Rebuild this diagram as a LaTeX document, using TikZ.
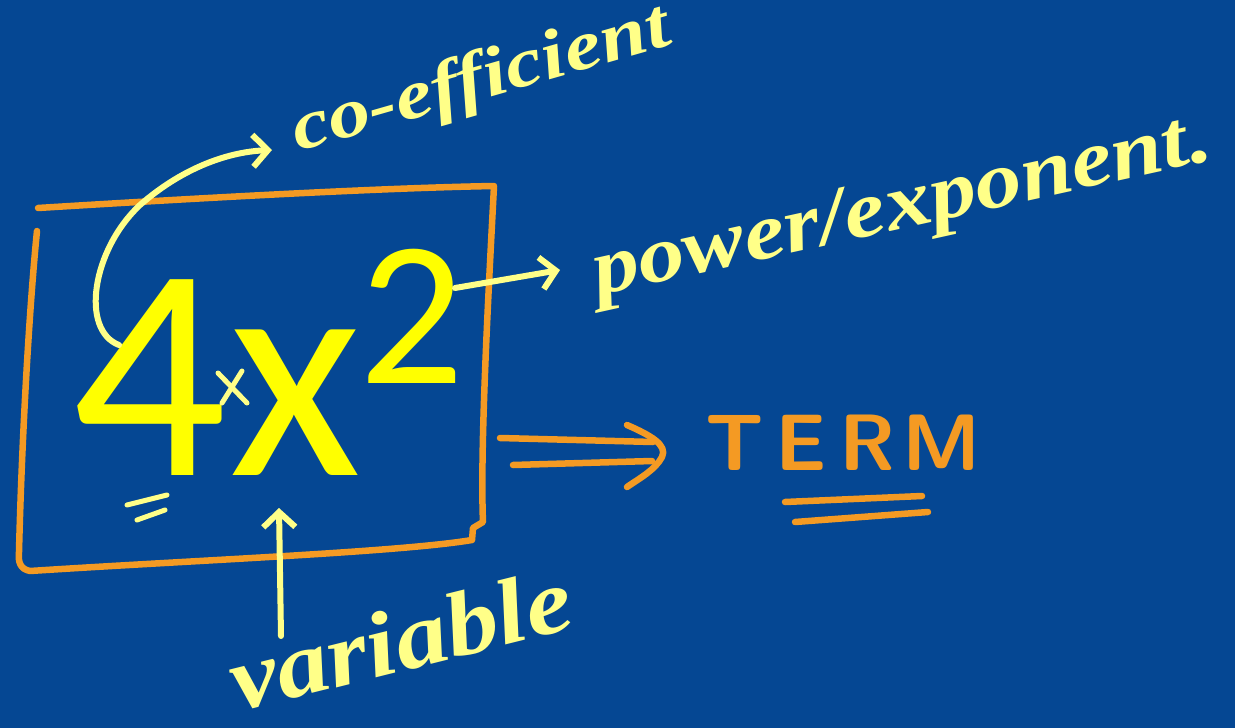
\documentclass[tikz,border=0pt]{standalone}
\usepackage{fontspec}
\setmainfont{Carlito}
\newfontfamily\hand{Liberation Serif}
\usetikzlibrary{arrows.meta}
\definecolor{bg}{RGB}{5,71,147}
\definecolor{pen}{RGB}{255,255,136}
\definecolor{org}{RGB}{244,154,35}
\definecolor{big}{RGB}{255,255,0}
\tikzset{
  ink/.style={draw=pen, line width=6pt, line cap=round, line join=round},
  oink/.style={draw=org, line width=6.5pt, line cap=round, line join=round},
  barb/.style={-{Straight Barb[length=15pt,width=32pt,line width=6pt]}},
  htext/.style={text=pen, inner sep=0pt, anchor=base west},
  glyph/.style={text=big, inner sep=0pt, anchor=base},
}
\newcommand{\handfont}[1]{\hand\itshape\bfseries\fontsize{#1}{#1}\selectfont}
\begin{document}
\begin{tikzpicture}[x=1pt,y=-1pt]
\fill[bg] (0,0) rectangle (1235,728);
\useasboundingbox (0,0) rectangle (1235,728);
% big term
\node[glyph, font=\fontsize{305}{305}\selectfont] (four) at (150,475) {4};
\node[glyph, font=\fontsize{305}{305}\selectfont] (ex) at (296,475) {x};
\node[glyph, font=\fontsize{207}{207}\selectfont] (two) at (412,383) {2};
% box
\draw[oink] (38,208) .. controls (200,198) and (380,188) .. (494,186)
  .. controls (488,300) and (480,450) .. (483,522) -- (473,528) -- (472,540)
  .. controls (400,552) and (200,560) .. (30,571)
  .. controls (20,569) and (18,562) .. (19,552)
  .. controls (22,430) and (30,300) .. (37,231);
% coefficient
\coordinate (c1) at (119,345);
\coordinate (c2) at (272,150);
\draw[ink, barb] (c1) .. controls (80,330) and (92,250) .. (140,205) .. controls (180,170) and (225,152) .. (c2);
\node[htext, font=\handfont{70}, rotate=16, xscale=1.2] (coef) at (298,152) {co-efficient};
% power
\coordinate (p1) at (455,288);
\coordinate (p2) at (560,270);
\draw[ink, barb] (p1) -- (p2);
\node[htext, font=\handfont{80}, rotate=12.5, xscale=1.16] (pow) at (598,296) {power/exponent.};
% variable
\coordinate (v1) at (281,636);
\coordinate (v2) at (279,508);
\draw[ink, barb] (v1) -- (v2);
\node[htext, font=\handfont{92}, rotate=14, xscale=1.14] (var) at (238,712) {variable};
% equals under 4 and multiplication mark
\draw[ink, line width=5pt] (127,505) -- (167,495);
\draw[ink, line width=5pt] (137,520) -- (165,510);
\draw[ink, line width=5pt] (218,373) -- (247,403);
\draw[ink, line width=5pt] (242,371) -- (222,403);
% double arrow to TERM
\coordinate (d1) at (500,438);
\coordinate (d2) at (653,442);
\coordinate (d3) at (513,465);
\coordinate (d4) at (652,461);
\draw[oink] (d1) -- (d2);
\draw[oink] (d3) -- (d4);
\draw[oink] (627,425) .. controls (650,435) and (668,445) .. (662,457) .. controls (655,470) and (640,478) .. (627,487);
\node[text=org, inner sep=0pt, anchor=base west, font=\fontsize{80}{80}\selectfont\sffamily\bfseries] (term) at (705,470) {T\hspace{12pt}E\hspace{12pt}R\hspace{7pt}M};
\coordinate (u1) at (785,502);
\coordinate (u2) at (922,496);
\coordinate (u3) at (795,522);
\coordinate (u4) at (928,512);
\draw[oink] (u1) -- (u2);
\draw[oink] (u3) -- (u4);
\end{tikzpicture}
\end{document}
